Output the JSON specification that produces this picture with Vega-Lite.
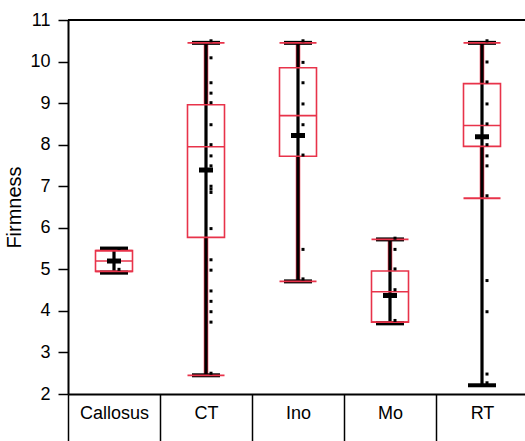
{
  "$schema": "https://vega.github.io/schema/vega-lite/v6.json",
  "width": 457,
  "height": 374,
  "autosize": {"type": "none"},
  "padding": {"left": 68, "top": 20, "right": 0, "bottom": 47},
  "background": "white",
  "config": {
    "view": {"stroke": null},
    "font": "Liberation Sans",
    "axis": {"grid": false, "domainColor": "black", "tickColor": "black", "labelColor": "black", "titleColor": "black", "labelFont": "Liberation Sans", "titleFont": "Liberation Sans"}
  },
  "datasets": {
    "stats": [
      {"group": "Callosus", "min": 4.92, "max": 5.5, "q1": 4.95, "q3": 5.45, "med": 5.2, "mean": 5.2, "wlo": 4.95, "whi": 5.45},
      {"group": "CT", "min": 2.45, "max": 10.45, "q1": 5.77, "q3": 8.96, "med": 7.95, "mean": 7.39, "wlo": 2.45, "whi": 10.45},
      {"group": "Ino", "min": 4.71, "max": 10.45, "q1": 7.72, "q3": 9.85, "med": 8.7, "mean": 8.22, "wlo": 4.71, "whi": 10.45},
      {"group": "Mo", "min": 3.7, "max": 5.72, "q1": 3.73, "q3": 4.96, "med": 4.46, "mean": 4.37, "wlo": 3.73, "whi": 5.72},
      {"group": "RT", "min": 2.21, "max": 10.45, "q1": 7.96, "q3": 9.47, "med": 8.46, "mean": 8.19, "wlo": 6.71, "whi": 10.45}
    ],
    "points": [
      {"group": "Callosus", "v": 5.5}, {"group": "Callosus", "v": 5.0},
      {"group": "CT", "v": 10.5}, {"group": "CT", "v": 10.09}, {"group": "CT", "v": 9.49}, {"group": "CT", "v": 9.24}, {"group": "CT", "v": 9.01}, {"group": "CT", "v": 8.48}, {"group": "CT", "v": 8.0}, {"group": "CT", "v": 7.73}, {"group": "CT", "v": 7.49}, {"group": "CT", "v": 7.0}, {"group": "CT", "v": 6.93}, {"group": "CT", "v": 6.85}, {"group": "CT", "v": 5.98}, {"group": "CT", "v": 5.23}, {"group": "CT", "v": 4.98}, {"group": "CT", "v": 4.48}, {"group": "CT", "v": 4.23}, {"group": "CT", "v": 3.98}, {"group": "CT", "v": 3.73}, {"group": "CT", "v": 2.5},
      {"group": "Ino", "v": 10.5}, {"group": "Ino", "v": 9.98}, {"group": "Ino", "v": 9.49}, {"group": "Ino", "v": 8.98}, {"group": "Ino", "v": 8.48}, {"group": "Ino", "v": 7.75}, {"group": "Ino", "v": 5.48}, {"group": "Ino", "v": 4.77},
      {"group": "Mo", "v": 5.75}, {"group": "Mo", "v": 5.48}, {"group": "Mo", "v": 5.01}, {"group": "Mo", "v": 4.51}, {"group": "Mo", "v": 3.77},
      {"group": "RT", "v": 10.5}, {"group": "RT", "v": 9.99}, {"group": "RT", "v": 9.51}, {"group": "RT", "v": 8.98}, {"group": "RT", "v": 8.5}, {"group": "RT", "v": 8.0}, {"group": "RT", "v": 7.73}, {"group": "RT", "v": 7.49}, {"group": "RT", "v": 6.77}, {"group": "RT", "v": 4.73}, {"group": "RT", "v": 3.98}, {"group": "RT", "v": 2.48}, {"group": "RT", "v": 2.27}
    ]
  },
  "encoding": {
    "x": {
      "field": "group", "type": "nominal",
      "sort": ["Callosus", "CT", "Ino", "Mo", "RT"],
      "scale": {"range": [0, 460], "paddingInner": 0, "paddingOuter": 0},
      "axis": {"title": null, "labelAngle": 0, "labelFontSize": 18, "tickBand": "extent", "tickSize": 47, "tickWidth": 1.5, "domainWidth": 2, "labelPadding": -37, "labelBaseline": "top"}
    }
  },
  "layer": [
    {
      "data": {"name": "stats"},
      "mark": {"type": "rule", "color": "black", "strokeWidth": 2},
      "encoding": {"x": null, "y": {"datum": 11, "type": "quantitative"}}
    },
    {
      "data": {"name": "stats"},
      "mark": {"type": "rule", "color": "#e8334a", "strokeWidth": 4.5},
      "encoding": {
        "y": {"field": "q3", "type": "quantitative", "scale": {"domain": [2, 11], "nice": false, "zero": false},
          "axis": {"title": "Firmness", "titleFontSize": 20, "titleFontWeight": "normal", "titlePadding": 5, "values": [2,3,4,5,6,7,8,9,10,11], "labelFontSize": 18, "tickSize": 10, "tickWidth": 1.5, "domainWidth": 2, "labelPadding": 8}},
        "y2": {"field": "whi"}
      }
    },
    {
      "data": {"name": "stats"},
      "mark": {"type": "rule", "color": "#e8334a", "strokeWidth": 4.5},
      "encoding": {"y": {"field": "wlo", "type": "quantitative"}, "y2": {"field": "q1"}}
    },
    {
      "data": {"name": "stats"},
      "mark": {"type": "rule", "color": "black", "strokeWidth": 3.2},
      "encoding": {"y": {"field": "min", "type": "quantitative"}, "y2": {"field": "max"}}
    },
    {
      "data": {"name": "stats"},
      "mark": {"type": "bar", "size": 37, "fill": "transparent", "stroke": "#e8334a", "strokeWidth": 1.6},
      "encoding": {"y": {"field": "q1", "type": "quantitative"}, "y2": {"field": "q3"}}
    },
    {
      "data": {"name": "stats"},
      "mark": {"type": "tick", "size": 37, "thickness": 1.6, "color": "#e8334a", "opacity": 1},
      "encoding": {"y": {"field": "med", "type": "quantitative"}}
    },
    {
      "data": {"name": "stats"},
      "mark": {"type": "tick", "size": 28, "thickness": 4, "color": "black", "opacity": 1},
      "encoding": {"y": {"field": "max", "type": "quantitative"}}
    },
    {
      "data": {"name": "stats"},
      "mark": {"type": "tick", "size": 28, "thickness": 4, "color": "black", "opacity": 1},
      "encoding": {"y": {"field": "min", "type": "quantitative"}}
    },
    {
      "data": {"name": "stats"},
      "mark": {"type": "tick", "size": 37, "thickness": 1.8, "color": "#e8334a", "opacity": 1},
      "encoding": {"y": {"field": "whi", "type": "quantitative"}}
    },
    {
      "data": {"name": "stats"},
      "mark": {"type": "tick", "size": 37, "thickness": 1.8, "color": "#e8334a", "opacity": 1},
      "encoding": {"y": {"field": "wlo", "type": "quantitative"}}
    },
    {
      "data": {"name": "stats"},
      "mark": {"type": "tick", "size": 14, "thickness": 5, "color": "black", "opacity": 1},
      "encoding": {"y": {"field": "mean", "type": "quantitative"}}
    },
    {
      "data": {"name": "points"},
      "mark": {"type": "square", "size": 9, "color": "black", "opacity": 1, "xOffset": 5},
      "encoding": {"y": {"field": "v", "type": "quantitative"}}
    }
  ]
}
